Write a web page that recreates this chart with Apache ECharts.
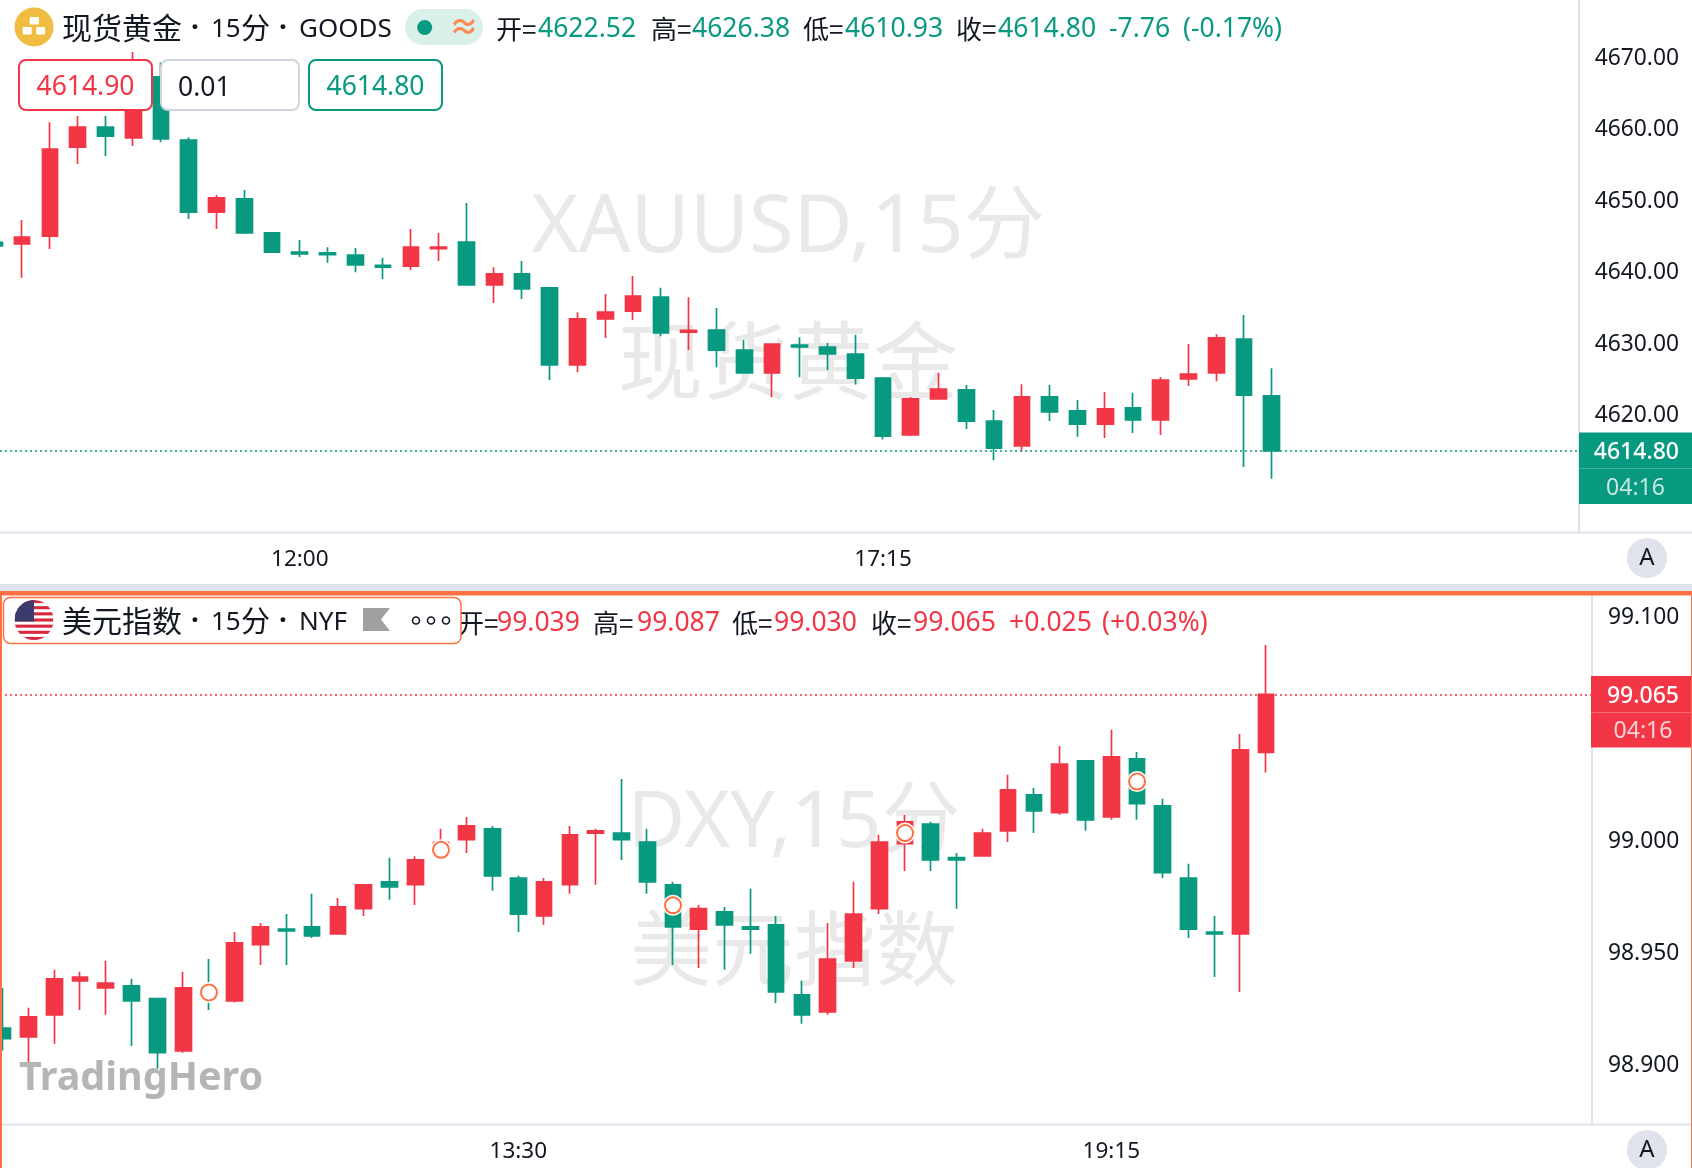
<!DOCTYPE html>
<html>
<head>
<meta charset="utf-8">
<style>html,body{margin:0;padding:0;background:#fff;}#c{width:1692px;height:1168px;}</style>
<script src="https://cdn.jsdelivr.net/npm/echarts@6/dist/echarts.min.js"></script>
</head>
<body>
<div id="c"></div>
<script>
const goldFirstIndex = -1;
const goldOpen  = [4644.0,4643.76,4644.86,4657.30,4660.10,4658.60,4667.15,4658.30,4648.21,4650.06,4645.31,4642.62,4642.52,4642.22,4640.77,4640.67,4643.11,4644.01,4638.02,4639.57,4637.62,4626.83,4633.27,4634.37,4636.32,4631.42,4631.72,4628.92,4625.73,4629.62,4629.32,4628.36,4625.0,4617.05,4622.10,4623.36,4618.99,4615.52,4622.36,4620.41,4618.57,4620.83,4619.15,4624.89,4625.73,4630.47,4622.52];
const goldClose = [4643.5,4644.71,4657.05,4660.10,4658.85,4667.0,4658.45,4648.21,4650.21,4645.31,4642.62,4642.37,4642.27,4640.82,4640.52,4643.31,4643.31,4638.02,4639.57,4637.47,4626.83,4633.27,4634.22,4636.47,4631.32,4631.67,4628.92,4625.73,4629.77,4629.37,4628.37,4625.0,4616.89,4622.10,4623.47,4618.99,4615.20,4622.36,4620.26,4618.57,4620.68,4619.15,4624.73,4625.57,4630.62,4622.62,4614.80];
const goldLow   = [4643.4,4639.02,4643.06,4654.96,4656.06,4657.45,4658.0,4647.26,4645.87,4645.31,4642.62,4641.92,4641.12,4639.82,4638.87,4640.12,4641.37,4638.02,4635.52,4636.07,4624.73,4625.83,4630.62,4633.12,4630.87,4628.92,4626.53,4625.73,4622.33,4625.13,4626.13,4624.10,4616.41,4616.89,4622.10,4617.89,4613.52,4614.73,4618.99,4616.78,4616.63,4617.31,4617.05,4623.89,4624.57,4612.57,4610.93];
const goldHigh  = [4644.1,4647.11,4660.80,4661.65,4661.65,4670.60,4669.15,4658.70,4650.61,4651.31,4645.41,4644.31,4643.31,4643.21,4641.82,4645.87,4645.31,4649.51,4640.52,4641.37,4637.72,4634.22,4636.77,4639.27,4637.62,4636.32,4634.82,4630.32,4629.77,4630.72,4629.92,4631.05,4625.15,4622.36,4625.73,4624.05,4620.52,4624.15,4624.05,4621.94,4623.05,4622.94,4625.15,4629.78,4631.15,4633.84,4626.38];
const goldPriceTicks = [4620,4630,4640,4650,4660,4670];
const goldTimeTicks = [10,31];
const goldTimeLabels = ['12:00','17:15'];
const goldLast = 4614.80;

const dxyOpen  = [98.9159,98.9119,98.9218,98.9370,98.9338,98.9347,98.9290,98.9057,98.9335,98.9280,98.9531,98.9601,98.9611,98.9580,98.9692,98.9812,98.9799,98.9930,99.0000,99.0049,98.9829,98.9660,98.9799,99.0030,99.0030,98.9990,98.9799,98.9601,98.9678,98.9611,98.9620,98.9307,98.9231,98.9459,98.9692,98.9983,99.0070,98.9920,98.9928,99.0040,99.0201,99.0121,99.0352,99.0102,99.0362,99.0151,98.9829,98.9588,98.9580,99.039];
const dxyClose = [98.9111,98.9209,98.9379,98.9387,98.9360,98.9280,98.9049,98.9338,98.9302,98.9539,98.9611,98.9593,98.9571,98.9700,98.9799,98.9789,98.9910,98.9988,99.0062,98.9839,98.9668,98.9812,99.0022,99.0040,99.0000,98.9812,98.9611,98.9692,98.9620,98.9601,98.9320,98.9218,98.9467,98.9668,98.9990,99.0080,98.9910,98.9910,99.0030,99.0223,99.0129,99.0338,99.0089,99.0370,99.0161,98.9853,98.9601,98.9580,99.0402,99.065];
const dxyLow   = [98.9059,98.8970,98.9089,98.9240,98.9218,98.9079,98.8977,98.9049,98.9240,98.9273,98.9441,98.9441,98.9561,98.9580,98.9660,98.9732,98.9709,98.9920,98.9941,98.9772,98.9588,98.9620,98.9759,98.9799,98.9910,98.9759,98.9441,98.9427,98.9419,98.9491,98.9271,98.9178,98.9218,98.9427,98.9668,98.9861,98.9861,98.9692,98.9928,98.9990,99.0030,99.0112,99.0040,99.0089,99.0089,98.9829,98.9561,98.9387,98.9320,99.030];
const dxyHigh  = [98.9338,98.9250,98.9419,98.9410,98.9459,98.9379,98.9290,98.9410,98.9467,98.9588,98.9628,98.9668,98.9759,98.9740,98.9799,98.9920,98.9926,99.0049,99.0102,99.0062,98.9839,98.9829,99.0062,99.0049,99.0271,99.0049,98.9812,98.9709,98.9700,98.9781,98.9660,98.9370,98.9628,98.9812,99.0022,99.0111,99.0080,98.9941,99.0049,99.0290,99.0231,99.0419,99.0352,99.0491,99.0392,99.0183,98.9893,98.9660,99.0472,99.087];
const dxyPriceTicks = [98.9,98.95,99.0,99.1];
const dxyTimeTicks = [20,43];
const dxyTimeLabels = ['13:30','19:15'];
const dxyLast = 99.065;
const dxyEventMarks = [[8,98.9318],[17,98.9955],[26,98.9707],[35,99.0030],[44,99.0260]];

const UP='#F23645', DOWN='#089981', LINE='#e0e3eb', ORANGE='#FF7043', INK='#131722', WM='#e9e9ea';
const FONT="'Noto Sans','Noto Sans CJK SC',sans-serif";
const CJK="'Noto Sans CJK SC','Noto Sans',sans-serif";

function ohlc(first,o,c,l,h){return o.map((v,i)=>[i+first,v,c[i],l[i],h[i]]);}
function T(x,y,text,size,fill,opt){opt=opt||{};return {type:'text',x:x,y:y+2,z:opt.z==null?50:opt.z,silent:true,
  style:{text:text,fill:fill,font:(opt.weight||'normal')+' '+size+'px '+(opt.font||FONT),textAlign:opt.align||'left',textVerticalAlign:'middle'}};}
function R(x,y,w,h,fill,opt){opt=opt||{};return {type:'rect',z:opt.z==null?40:opt.z,silent:true,shape:{x:x,y:y,width:w,height:h,r:opt.r||0},
  style:{fill:fill,stroke:opt.stroke||null,lineWidth:opt.lw||0}};}
function C(cx,cy,r,fill,opt){opt=opt||{};return {type:'circle',z:opt.z==null?45:opt.z,silent:true,shape:{cx:cx,cy:cy,r:r},style:{fill:fill,stroke:opt.stroke||null,lineWidth:opt.lw||0}};}

const flagStripes=[0,1,2,3,4,5,6].map(i=>'<rect x="0" y="'+(i*2*40/13)+'" width="40" height="'+(40/13)+'" fill="#d8283f"/>').join('');
const flagSvg='<svg xmlns="http://www.w3.org/2000/svg" width="80" height="80" viewBox="0 0 40 40"><defs><clipPath id="a"><circle cx="20" cy="20" r="20"/></clipPath></defs><g clip-path="url(#a)"><rect width="40" height="40" fill="#fff"/>'+flagStripes+'<rect width="20" height="21.5" fill="#3c3b6e"/></g></svg>';

function legendHead(y,name,tail){return [
  T(62,y,name,30,INK,{font:CJK}),
  T(191,y+1,'·',28,INK,{weight:'bold'}),
  T(211,y+1.5,'15',26,INK),
  T(241,y,'分',29,INK,{font:CJK}),
  T(279,y+1,'·',28,INK,{weight:'bold'}),
  T(299,y+1.5,tail,26,INK)
];}
function ohlcRow(y,color,pos,vals,chg,pct){const out=[];['开=','高=','低=','收='].forEach((lab,i)=>{
    out.push(T(pos[i][0],y,lab,26,INK,{font:CJK}));out.push(T(pos[i][1],y,vals[i],26.5,color));});
  out.push(T(pos[4][0],y,chg,26.5,color));out.push(T(pos[4][1],y,pct,26.5,color));return out;}

const graphics=[
  T(788,227,'XAUUSD,15分',81,WM,{align:'center',z:0}),
  T(788,359,'现货黄金',85,WM,{align:'center',z:0,font:CJK}),
  T(794,822,'DXY,15分',79,WM,{align:'center',z:0}),
  T(794,946,'美元指数',82,WM,{align:'center',z:0,font:CJK}),

  C(34,27,19.5,'#F0BD42'),
  R(29.7,17,9.2,7.5,'#fff',{r:1,z:46}),R(22.7,27,9,7.5,'#fff',{r:1,z:46}),R(36.2,27,9,7.5,'#fff',{r:1,z:46}),
  ...legendHead(26,'现货黄金','GOODS'),
  R(405,9,78,36,'#d9f0eb',{r:18}),
  C(424.7,27.5,7.5,DOWN),
  T(464,26,'≈',30,'#FF8A50',{align:'center',weight:'bold'}),
  ...ohlcRow(27.5,DOWN,[[496,538],[651,692],[803,845],[956,998],[1109,1183]],['4622.52','4626.38','4610.93','4614.80'],'-7.76','(-0.17%)'),
  R(19,60,133,50,'#fff',{r:7,stroke:UP,lw:2}),T(85.5,85,'4614.90',26.5,UP,{align:'center'}),
  R(161,60,138,50,'#fff',{r:7,stroke:'#d1d4dc',lw:2}),T(178,86,'0.01',26.5,INK),
  R(309,60,133,50,'#fff',{r:7,stroke:DOWN,lw:2}),T(375.5,85,'4614.80',26.5,DOWN,{align:'center'}),

  R(1579,432.6,113,71.4,DOWN,{z:30}),
  R(1579,468,113,1,'#3aae98',{z:31}),
  T(1679,450.5,'4614.80',23,'#fff',{align:'right',weight:'500'}),
  T(1635.5,486.5,'04:16',23,'#c9e7e1',{align:'center'}),
  R(0,531.5,1692,2,LINE,{z:30}),
  C(1647,558,20,LINE),T(1647,556,'A',24,INK,{align:'center'}),

  R(0,584,1692,7,LINE,{z:30}),
  R(0,591,1692,4.5,ORANGE,{z:60}),
  R(0,591,2,577,ORANGE,{z:60}),
  R(1691,591,1,577,ORANGE,{z:60}),

  ...ohlcRow(621,UP,[[458,497],[593,637],[732,774],[871,913],[1009,1102]],['99.039','99.087','99.030','99.065'],'+0.025','(+0.03%)'),
  R(3.5,597.5,457.5,46,'#fff',{r:7,stroke:ORANGE,lw:1.5,z:52}),
  {type:'image',z:53,silent:true,style:{image:'data:image/svg+xml;charset=utf-8,'+encodeURIComponent(flagSvg),x:14.5,y:600,width:39,height:40}},
  ...legendHead(619,'美元指数','NYF').map(e=>{e.z=53;return e;}),
  {type:'polygon',z:53,silent:true,shape:{points:[[363,608],[390,608],[381,619.5],[390,631],[363,631]]},style:{fill:'#a0a0a0'}},
  C(416,620.5,3.5,'#fff',{stroke:INK,lw:1.6,z:53}),C(431,620.5,3.5,'#fff',{stroke:INK,lw:1.6,z:53}),C(446,620.5,3.5,'#fff',{stroke:INK,lw:1.6,z:53}),

  R(1591,676,101,71.6,UP,{z:30}),
  R(1591,712,101,1,'#f76a75',{z:31}),
  T(1679,694,'99.065',23,'#fff',{align:'right',weight:'500'}),
  T(1643,729.5,'04:16',23,'#fbd3d6',{align:'center'}),
  R(0,1123.5,1692,2,LINE,{z:30}),
  C(1647,1150,20,LINE),T(1647,1148,'A',24,INK,{align:'center'}),

  T(19,1077,'TradingHero',39.5,'#b4b5b6',{weight:'bold',z:48,font:"'Noto Sans',sans-serif"})
];

function xAxisOf(idx,min,max,ticks,labels){return {gridIndex:idx,type:'value',min:min,max:max,
  axisLine:{show:false},axisTick:{show:false},splitLine:{show:false},
  axisLabel:{customValues:ticks,formatter:v=>labels[ticks.indexOf(v)],color:INK,fontFamily:FONT,fontSize:22.5,margin:16}};}
function yAxisOf(idx,min,max,ticks,digits,margin){return {gridIndex:idx,type:'value',position:'right',min:min,max:max,scale:true,
  axisLine:{show:true,onZero:false,lineStyle:{color:LINE,width:2}},axisTick:{show:false},splitLine:{show:false},
  axisLabel:{customValues:ticks,formatter:v=>'{t|'+v.toFixed(digits)+'}',align:'right',margin:margin,verticalAlign:'middle',
    rich:{t:{color:INK,fontFamily:FONT,fontSize:22.8,padding:[4,0,0,0]}}}};}
function candle(idx,data,last,lastColor){return {type:'candlestick',xAxisIndex:idx,yAxisIndex:idx,data:data,barWidth:16.2,clip:true,silent:true,
  itemStyle:{color:UP,color0:DOWN,borderColor:UP,borderColor0:DOWN,borderWidth:1.7},
  markLine:{silent:true,symbol:'none',animation:false,precision:4,label:{show:false},lineStyle:{color:lastColor,type:[2,3],width:1.5},data:[{yAxis:last}]}};}

const chart=echarts.init(document.getElementById('c'),null,{renderer:'canvas'});
chart.setOption({
  animation:false,backgroundColor:'#fff',
  grid:[{left:0,top:0,width:1579,height:532},{left:0,top:596,width:1591.3,height:528.5}],
  xAxis:[xAxisOf(0,-0.7958,56.06,goldTimeTicks,goldTimeLabels),xAxisOf(1,-0.105,61.62,dxyTimeTicks,dxyTimeLabels)],
  yAxis:[yAxisOf(0,4603.47,4677.89,goldPriceTicks,2,100),yAxisOf(1,98.8728,99.1089,dxyPriceTicks,3,88)],
  series:[
    candle(0,ohlc(goldFirstIndex,goldOpen,goldClose,goldLow,goldHigh),goldLast,DOWN),
    candle(1,ohlc(0,dxyOpen,dxyClose,dxyLow,dxyHigh),dxyLast,UP),
    {type:'scatter',xAxisIndex:1,yAxisIndex:1,z:3,silent:true,symbol:'circle',symbolSize:21,data:dxyEventMarks,itemStyle:{color:'#fff',opacity:1}},
    {type:'scatter',xAxisIndex:1,yAxisIndex:1,z:4,silent:true,symbol:'circle',symbolSize:16,data:dxyEventMarks,itemStyle:{color:'#fff',borderColor:ORANGE,borderWidth:2,opacity:1}}
  ],
  graphic:{elements:graphics}
});
</script>
</body>
</html>
